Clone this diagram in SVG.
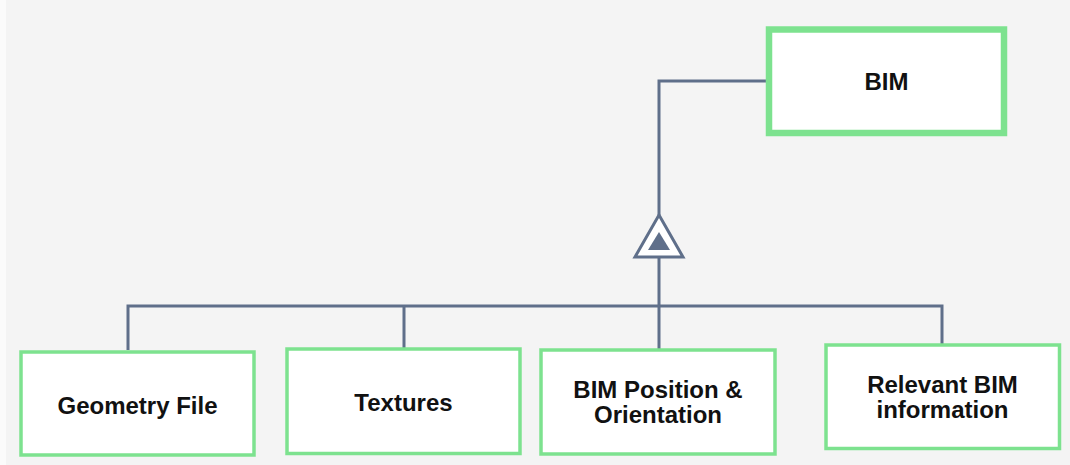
<svg xmlns="http://www.w3.org/2000/svg" width="1070" height="465" viewBox="0 0 1070 465">
<style>
.node{fill:#ffffff;stroke:#7de28f;stroke-width:3.5}
.main{fill:#ffffff;stroke:#7de28f;stroke-width:6.5}
.lbl{font-family:"Liberation Sans",Arial,sans-serif;font-weight:bold;font-size:24px;fill:#111111;text-anchor:middle}
.con{fill:none;stroke:#5f6f8a;stroke-width:3}
</style>
<rect x="0" y="0" width="1070" height="465" fill="#f4f4f4"/>
<rect x="0" y="0" width="6" height="465" fill="#fbfbfb"/>
<g id="connectors">
<path class="con" d="M766 81 H659 V215"/>
<path class="con" d="M659 257 V350"/>
<path class="con" d="M128 350 V306 H942 V344"/>
<path class="con" d="M404 306 V348"/>
<polygon points="659,215 683,257 635,257" fill="#ffffff" stroke="#5f6f8a" stroke-width="3" stroke-linejoin="miter"/>
<polygon points="659,232 670,250 648,250" fill="#5f6f8a"/>
</g>
<g id="bim">
<rect class="main" x="769" y="29.5" width="235" height="103.5"/>
<text class="lbl" x="886.5" y="89.5">BIM</text>
</g>
<g id="geometry">
<rect class="node" x="21" y="352" width="233" height="103"/>
<text class="lbl" x="137.5" y="413.5">Geometry File</text>
</g>
<g id="textures">
<rect class="node" x="287" y="349" width="233" height="104.5"/>
<text class="lbl" x="403.5" y="410.5">Textures</text>
</g>
<g id="position">
<rect class="node" x="541" y="350" width="234" height="104"/>
<text class="lbl" x="658" y="397.5">BIM Position &amp;</text>
<text class="lbl" x="658" y="422.5">Orientation</text>
</g>
<g id="relevant">
<rect class="node" x="826" y="345" width="233.5" height="103.5"/>
<text class="lbl" x="942.5" y="392.5">Relevant BIM</text>
<text class="lbl" x="942.5" y="417.5">information</text>
</g>
</svg>
